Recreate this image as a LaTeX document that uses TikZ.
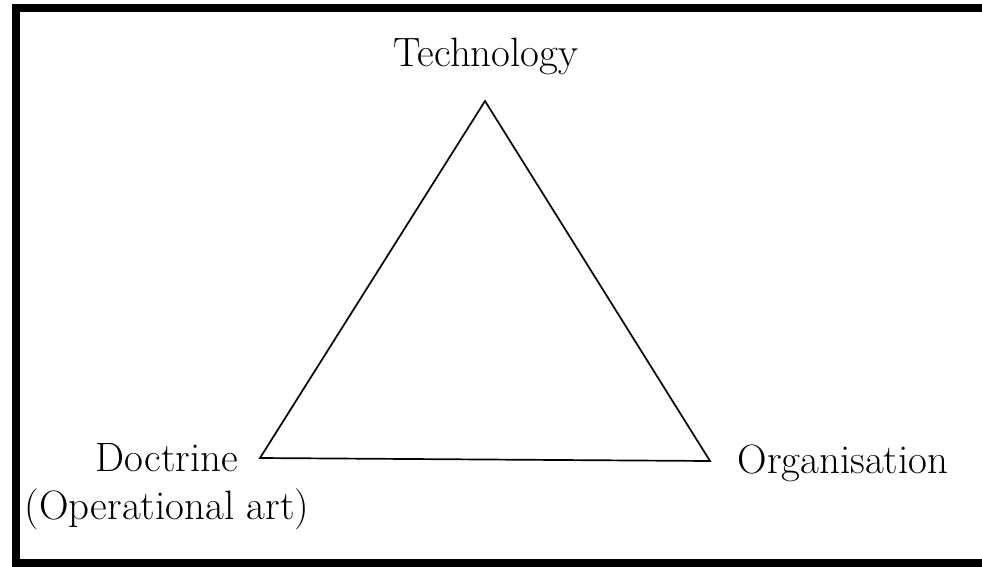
\documentclass[tikz,border=0pt]{standalone}
\usepackage{tikz}

\begin{document}
\begin{tikzpicture}[x=1pt,y=-1pt]
  \tikzset{lbl/.style={font=\fontsize{41}{48}\selectfont,inner sep=0pt,anchor=base},
    side/.style={line width=1.7pt,line join=miter}}
  \useasboundingbox (0,0) rectangle (982,566);
  \draw[line width=8pt] (16,8) rectangle (990,563);
  \coordinate (tech) at (485,101);
  \coordinate (doc) at (260,458);
  \coordinate (org) at (710,461);
  \node[lbl] (techlbl) at (486,66) {Technology};
  \node[lbl] (doclbl) at (167,471) {Doctrine};
  \node[lbl] (oplbl) at (167,519) {(Operational art)};
  \node[lbl] (orglbl) at (843,473) {Organisation};
  \draw[side] (tech) -- (doc) -- (org) -- cycle;
\end{tikzpicture}
\end{document}
